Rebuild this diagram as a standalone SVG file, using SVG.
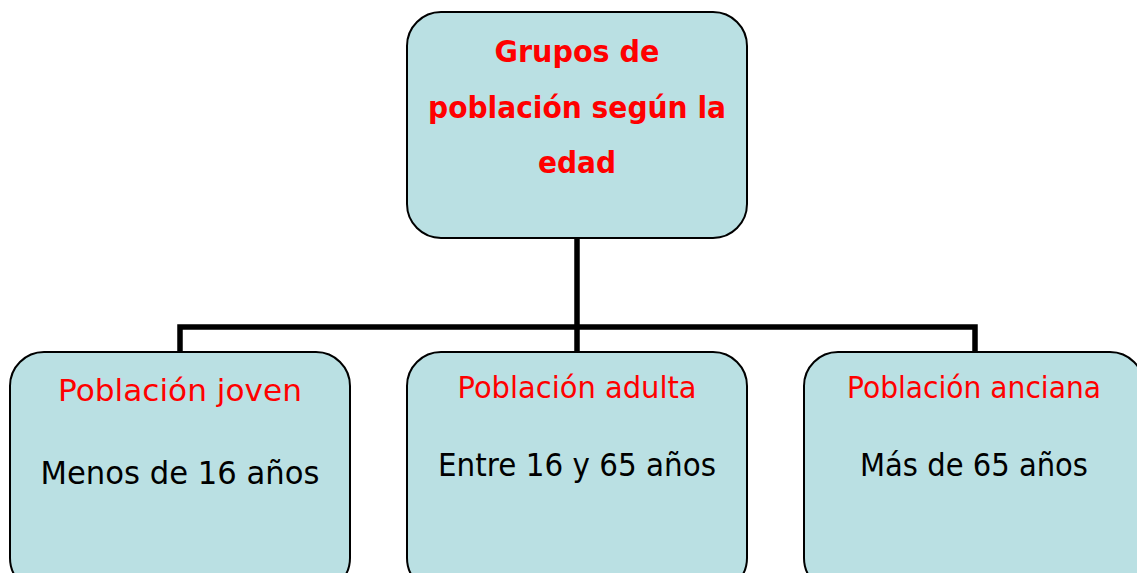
<svg xmlns="http://www.w3.org/2000/svg" width="1137" height="573" viewBox="0 0 1137 573">
<style>
.box{fill:#bae0e3;stroke:#000;stroke-width:2}
.conn{fill:none;stroke:#000;stroke-width:5.5}
text{font-family:"Comic Sans MS","DejaVu Sans",sans-serif;text-anchor:middle}
.title{fill:#ff0000;font-weight:bold;font-size:31px}
.head{fill:#ff0000;font-size:30px}
.sub{fill:#000;font-size:32px}
</style>
<rect width="1137" height="573" fill="#fff"/>
<g id="connectors">
<path class="conn" d="M577 238V327M180 352V327H975V352M577 327V352"/>
</g>
<g id="root">
<rect class="box" x="407" y="12" width="340" height="226" rx="34"/>
<text class="title" x="577" y="62" textLength="165" lengthAdjust="spacingAndGlyphs">Grupos de</text>
<text class="title" x="577" y="118" textLength="298" lengthAdjust="spacingAndGlyphs">población según la</text>
<text class="title" x="577" y="173" textLength="78" lengthAdjust="spacingAndGlyphs">edad</text>
</g>
<g id="joven">
<rect class="box" x="10" y="352" width="340" height="240" rx="34"/>
<text class="head" x="180" y="401" textLength="244" lengthAdjust="spacingAndGlyphs">Población joven</text>
<text class="sub" x="180" y="484" textLength="279" lengthAdjust="spacingAndGlyphs">Menos de 16 años</text>
</g>
<g id="adulta">
<rect class="box" x="407" y="352" width="340" height="240" rx="34"/>
<text class="head" x="577" y="398" textLength="239" lengthAdjust="spacingAndGlyphs">Población adulta</text>
<text class="sub" x="577" y="476" textLength="278" lengthAdjust="spacingAndGlyphs">Entre 16 y 65 años</text>
</g>
<g id="anciana">
<rect class="box" x="804" y="352" width="340" height="240" rx="34"/>
<text class="head" x="974" y="398" textLength="254" lengthAdjust="spacingAndGlyphs">Población anciana</text>
<text class="sub" x="974" y="476" textLength="228" lengthAdjust="spacingAndGlyphs">Más de 65 años</text>
</g>
</svg>
